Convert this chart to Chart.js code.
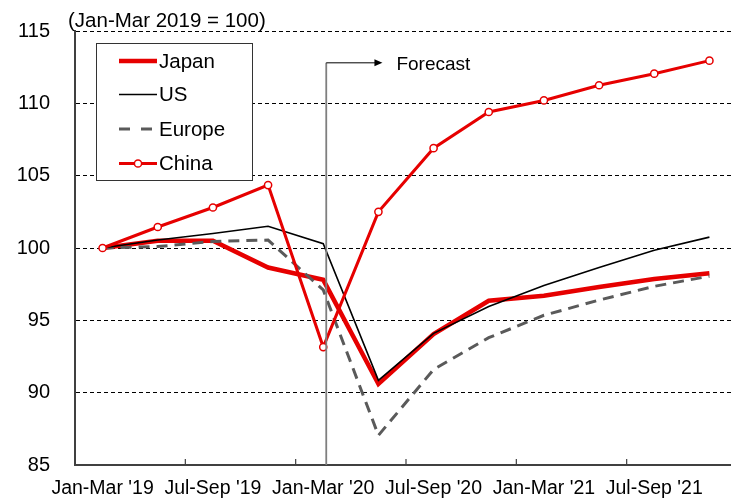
<!DOCTYPE html>
<html>
<head>
<meta charset="utf-8">
<script src="https://cdn.jsdelivr.net/npm/chart.js@4/dist/chart.umd.min.js"></script>
<style>
  html, body { margin: 0; padding: 0; background: #fff; overflow: hidden; }
  #wrap { width: 750px; height: 499px; }
</style>
</head>
<body>
<div id="wrap"><canvas id="c" width="750" height="499"></canvas></div>
<script>
// Quarterly real GDP index, Jan-Mar 2019 = 100
const quarters = [
  "Jan-Mar '19", "Apr-Jun '19", "Jul-Sep '19", "Oct-Dec '19",
  "Jan-Mar '20", "Apr-Jun '20", "Jul-Sep '20", "Oct-Dec '20",
  "Jan-Mar '21", "Apr-Jun '21", "Jul-Sep '21", "Oct-Dec '21"
];
const japan  = [100, 100.5, 100.5, 98.65, 97.8, 90.6, 94.05, 96.35, 96.7, 97.3, 97.85, 98.25];
const us     = [100, 100.55, 101.0, 101.5, 100.3, 90.85, 94.1, 95.95, 97.4, 98.65, 99.85, 100.75];
const europe = [100, 100.1, 100.45, 100.55, 97.1, 87.05, 91.6, 93.8, 95.35, 96.4, 97.35, 98.05];
const china  = [100, 101.45, 102.8, 104.35, 93.15, 102.5, 106.9, 109.4, 110.2, 111.25, 112.05, 112.95];
const yTicks = [85, 90, 95, 100, 105, 110, 115];
const forecastStart = 4; // index of Jan-Mar '20

const FONT = "'Liberation Sans', Arial, sans-serif";
const RED = '#e60000';
const GREY = '#5a5a5a';

const series = [
  { label: 'Japan',  data: japan,  color: RED,    width: 4.5, dash: [],      marker: false, order: 3 },
  { label: 'US',     data: us,     color: '#000', width: 1.6, dash: [],      marker: false, order: 1 },
  { label: 'Europe', data: europe, color: GREY,   width: 3,   dash: [11, 7], marker: false, order: 2 },
  { label: 'China',  data: china,  color: RED,    width: 3,   dash: [],      marker: true,  order: 0 }
];

const decorations = {
  id: 'decorations',
  afterDatasetsDraw(chart) {
    const ctx = chart.ctx;
    const x = chart.scales.x, y = chart.scales.y;
    const area = chart.chartArea;
    ctx.save();

    // inward tick marks at every second category boundary
    ctx.strokeStyle = '#404040';
    ctx.lineWidth = 1.2;
    for (let i = 2; i <= quarters.length; i += 2) {
      const bx = (x.getPixelForValue(i - 1) + x.getPixelForValue(i)) / 2;
      ctx.beginPath();
      ctx.moveTo(bx, area.bottom);
      ctx.lineTo(bx, area.bottom - 6);
      ctx.stroke();
    }

    // forecast marker
    const fx = x.getPixelForValue(forecastStart) + 3;
    const fy = y.getPixelForValue(112.8);
    ctx.strokeStyle = '#7f7f7f';
    ctx.lineWidth = 1.8;
    ctx.beginPath();
    ctx.moveTo(fx, area.bottom);
    ctx.lineTo(fx, fy);
    ctx.stroke();
    const ax = x.getPixelForValue(forecastStart + 1) + 4;
    ctx.strokeStyle = '#000';
    ctx.lineWidth = 1;
    ctx.beginPath();
    ctx.moveTo(fx, fy);
    ctx.lineTo(ax - 6, fy);
    ctx.stroke();
    ctx.fillStyle = '#000';
    ctx.beginPath();
    ctx.moveTo(ax, fy);
    ctx.lineTo(ax - 8, fy - 3.5);
    ctx.lineTo(ax - 8, fy + 3.5);
    ctx.closePath();
    ctx.fill();
    ctx.font = '19px ' + FONT;
    ctx.textBaseline = 'middle';
    ctx.textAlign = 'left';
    ctx.fillText('Forecast', ax + 14, fy + 2);

    // unit note
    ctx.font = '20.5px ' + FONT;
    ctx.textBaseline = 'alphabetic';
    ctx.fillText('(Jan-Mar 2019 = 100)', 68, 27);

    // legend box
    const lx = 96.5, ly = 43.5, lw = 156, lh = 137;
    ctx.fillStyle = '#fff';
    ctx.fillRect(lx, ly, lw, lh);
    ctx.strokeStyle = '#333';
    ctx.lineWidth = 1;
    ctx.strokeRect(lx, ly, lw, lh);
    const rows = [61, 94.5, 129, 163.5];
    series.forEach((s, i) => {
      const ry = rows[i];
      ctx.strokeStyle = s.color;
      ctx.lineWidth = s.width;
      ctx.setLineDash(s.dash.length ? [11, 11] : []);
      ctx.beginPath();
      ctx.moveTo(119, ry);
      ctx.lineTo(157, ry);
      ctx.stroke();
      ctx.setLineDash([]);
      if (s.marker) {
        ctx.fillStyle = '#fff';
        ctx.lineWidth = 1.5;
        ctx.beginPath();
        ctx.arc(138, ry, 3.6, 0, Math.PI * 2);
        ctx.fill();
        ctx.stroke();
      }
      ctx.fillStyle = '#000';
      ctx.font = '20.5px ' + FONT;
      ctx.textBaseline = 'middle';
      ctx.fillText(s.label, 159, ry + 1);
    });
    ctx.restore();
  }
};

new Chart(document.getElementById('c'), {
  type: 'line',
  data: {
    labels: quarters,
    datasets: series.map(s => ({
      label: s.label,
      data: s.data,
      borderColor: s.color,
      borderWidth: s.width,
      borderDash: s.dash,
      tension: 0,
      fill: false,
      order: s.order,
      pointRadius: s.marker ? 3.6 : 0,
      pointBackgroundColor: '#fff',
      pointBorderColor: s.color,
      pointBorderWidth: 1.5,
      borderJoinStyle: 'miter'
    }))
  },
  options: {
    responsive: false,
    animation: false,
    devicePixelRatio: 1,
    layout: { padding: { top: 31, right: 13, bottom: 0, left: 0 } },
    plugins: { legend: { display: false }, tooltip: { enabled: false }, title: { display: false } },
    scales: {
      x: {
        type: 'category',
        offset: true,
        grid: { display: false, drawTicks: false },
        border: { display: true, color: '#404040', width: 2 },
        ticks: {
          autoSkip: false,
          maxRotation: 0,
          minRotation: 0,
          padding: 12,
          color: '#000',
          font: { family: FONT, size: 19.5 },
          callback: (v, i) => (i % 2 === 0 ? quarters[i] : '')
        },
        afterFit: s => { s.height = 34; }
      },
      y: {
        min: yTicks[0],
        max: yTicks[yTicks.length - 1],
        afterBuildTicks: s => { s.ticks = yTicks.map(v => ({ value: v })); },
        grid: { color: '#000', lineWidth: 1, drawTicks: false },
        border: { display: true, color: '#404040', width: 2, dash: [4, 3] },
        ticks: {
          padding: 25,
          color: '#000',
          font: { family: FONT, size: 20 }
        },
        afterFit: s => {
          s.width = 75;
          // keep the tick-label overflow from shrinking the plot vertically
          s.paddingTop = 0;
          s.paddingBottom = 0;
        }
      }
    }
  },
  plugins: [decorations]
});
</script>
</body>
</html>
